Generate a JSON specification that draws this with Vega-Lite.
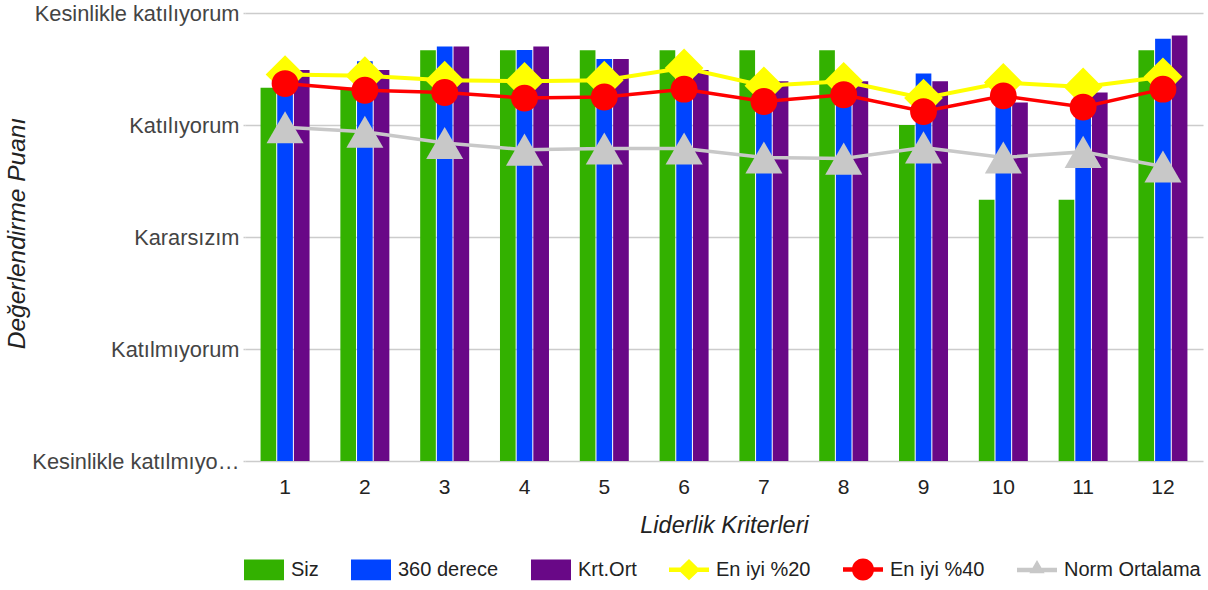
{
  "$schema": "https://vega.github.io/schema/vega-lite/v6.json",
  "width": 958,
  "height": 448,
  "autosize": {"type": "none"},
  "padding": {"left": 245, "top": 13, "right": 5, "bottom": 129},
  "background": "white",
  "config": {
    "font": "Liberation Sans",
    "view": {"stroke": null},
    "axis": {"labelFont": "Liberation Sans", "titleFont": "Liberation Sans"}
  },
  "data": {
    "values": [
      {"k": 1, "series": "Siz", "v": 4.333}, {"k": 2, "series": "Siz", "v": 4.333}, {"k": 3, "series": "Siz", "v": 4.667}, {"k": 4, "series": "Siz", "v": 4.667}, {"k": 5, "series": "Siz", "v": 4.667}, {"k": 6, "series": "Siz", "v": 4.667}, {"k": 7, "series": "Siz", "v": 4.667}, {"k": 8, "series": "Siz", "v": 4.667}, {"k": 9, "series": "Siz", "v": 4.0}, {"k": 10, "series": "Siz", "v": 3.333}, {"k": 11, "series": "Siz", "v": 3.333}, {"k": 12, "series": "Siz", "v": 4.667},
      {"k": 1, "series": "360 derece", "v": 4.4}, {"k": 2, "series": "360 derece", "v": 4.57}, {"k": 3, "series": "360 derece", "v": 4.7}, {"k": 4, "series": "360 derece", "v": 4.67}, {"k": 5, "series": "360 derece", "v": 4.59}, {"k": 6, "series": "360 derece", "v": 4.5}, {"k": 7, "series": "360 derece", "v": 4.36}, {"k": 8, "series": "360 derece", "v": 4.4}, {"k": 9, "series": "360 derece", "v": 4.46}, {"k": 10, "series": "360 derece", "v": 4.3}, {"k": 11, "series": "360 derece", "v": 4.25}, {"k": 12, "series": "360 derece", "v": 4.77},
      {"k": 1, "series": "Krt.Ort", "v": 4.49}, {"k": 2, "series": "Krt.Ort", "v": 4.49}, {"k": 3, "series": "Krt.Ort", "v": 4.7}, {"k": 4, "series": "Krt.Ort", "v": 4.7}, {"k": 5, "series": "Krt.Ort", "v": 4.59}, {"k": 6, "series": "Krt.Ort", "v": 4.49}, {"k": 7, "series": "Krt.Ort", "v": 4.39}, {"k": 8, "series": "Krt.Ort", "v": 4.39}, {"k": 9, "series": "Krt.Ort", "v": 4.39}, {"k": 10, "series": "Krt.Ort", "v": 4.2}, {"k": 11, "series": "Krt.Ort", "v": 4.29}, {"k": 12, "series": "Krt.Ort", "v": 4.8},
      {"k": 1, "series": "En iyi %20", "v": 4.45}, {"k": 2, "series": "En iyi %20", "v": 4.44}, {"k": 3, "series": "En iyi %20", "v": 4.4}, {"k": 4, "series": "En iyi %20", "v": 4.39}, {"k": 5, "series": "En iyi %20", "v": 4.4}, {"k": 6, "series": "En iyi %20", "v": 4.51}, {"k": 7, "series": "En iyi %20", "v": 4.35}, {"k": 8, "series": "En iyi %20", "v": 4.39}, {"k": 9, "series": "En iyi %20", "v": 4.24}, {"k": 10, "series": "En iyi %20", "v": 4.38}, {"k": 11, "series": "En iyi %20", "v": 4.34}, {"k": 12, "series": "En iyi %20", "v": 4.43},
      {"k": 1, "series": "En iyi %40", "v": 4.37}, {"k": 2, "series": "En iyi %40", "v": 4.31}, {"k": 3, "series": "En iyi %40", "v": 4.29}, {"k": 4, "series": "En iyi %40", "v": 4.24}, {"k": 5, "series": "En iyi %40", "v": 4.25}, {"k": 6, "series": "En iyi %40", "v": 4.32}, {"k": 7, "series": "En iyi %40", "v": 4.21}, {"k": 8, "series": "En iyi %40", "v": 4.27}, {"k": 9, "series": "En iyi %40", "v": 4.12}, {"k": 10, "series": "En iyi %40", "v": 4.26}, {"k": 11, "series": "En iyi %40", "v": 4.16}, {"k": 12, "series": "En iyi %40", "v": 4.32},
      {"k": 1, "series": "Norm Ortalama", "v": 3.98}, {"k": 2, "series": "Norm Ortalama", "v": 3.94}, {"k": 3, "series": "Norm Ortalama", "v": 3.84}, {"k": 4, "series": "Norm Ortalama", "v": 3.78}, {"k": 5, "series": "Norm Ortalama", "v": 3.79}, {"k": 6, "series": "Norm Ortalama", "v": 3.79}, {"k": 7, "series": "Norm Ortalama", "v": 3.71}, {"k": 8, "series": "Norm Ortalama", "v": 3.7}, {"k": 9, "series": "Norm Ortalama", "v": 3.8}, {"k": 10, "series": "Norm Ortalama", "v": 3.71}, {"k": 11, "series": "Norm Ortalama", "v": 3.76}, {"k": 12, "series": "Norm Ortalama", "v": 3.63}
    ]
  },
  "encoding": {
    "x": {
      "field": "k", "type": "ordinal",
      "scale": {"paddingInner": 0.386, "paddingOuter": 0.195},
      "axis": {
        "title": "Liderlik Kriterleri", "labelAngle": 0, "ticks": false, "domain": false,
        "labelFontSize": 21, "labelColor": "#222", "labelPadding": 15,
        "titleFontSize": 23.5, "titleFontStyle": "italic", "titleFontWeight": "normal", "titleColor": "#222",
        "titleY": 64, "titleBaseline": "middle"
      }
    },
    "y": {
      "field": "v", "type": "quantitative",
      "scale": {"domain": [1, 5], "zero": false, "nice": false},
      "axis": {
        "title": "Değerlendirme Puanı", "values": [1, 2, 3, 4, 5],
        "labelExpr": "datum.value == 5 ? 'Kesinlikle katılıyorum' : datum.value == 4 ? 'Katılıyorum' : datum.value == 3 ? 'Kararsızım' : datum.value == 2 ? 'Katılmıyorum' : 'Kesinlikle katılmıyo…'",
        "labelLimit": 0, "labelFontSize": 21.8, "labelColor": "#444", "labelPadding": 4,
        "tickSize": 2, "tickColor": "#cccccc", "tickWidth": 1.5,
        "grid": true, "gridColor": "#cccccc", "gridWidth": 1.5, "domain": false,
        "titleFontSize": 24.5, "titleFontStyle": "italic", "titleFontWeight": "normal", "titleColor": "#222",
        "titleX": -228, "titleY": 220, "titleAlign": "center", "titleBaseline": "middle"
      }
    },
    "color": {
      "field": "series", "type": "nominal",
      "scale": {
        "domain": ["Siz", "360 derece", "Krt.Ort", "En iyi %20", "En iyi %40", "Norm Ortalama"],
        "range": ["#33b100", "#0044ff", "#690887", "#ffff00", "#ff0000", "#c8c8c8"]
      },
      "legend": {
        "title": null, "orient": "none", "direction": "horizontal", "columns": 6,
        "legendX": -1, "legendY": 536.5,
        "symbolType": "square", "symbolSize": 1600, "symbolStrokeWidth": 0, "symbolOpacity": 1,
        "labelFontSize": 20, "labelColor": "#222", "labelOffset": 7, "columnPadding": 32,
        "labelFont": "Liberation Sans",
        "encode": {
          "symbols": {
            "update": {
              "shape": {"signal": "datum.value === 'En iyi %20' ? 'M-1,-0.11H1V0.11H-1Z M0,-0.53L0.55,0L0,0.53L-0.55,0Z' : datum.value === 'En iyi %40' ? 'M-1,-0.11H1V0.11H-1Z M-0.55,0A0.55,0.55 0 1,1 0.55,0A0.55,0.55 0 1,1 -0.55,0Z' : datum.value === 'Norm Ortalama' ? 'M-1,-0.11H1V0.11H-1Z M0,-0.5L0.38,0.16L-0.38,0.16Z' : 'M-1,-0.52H1V0.52H-1Z'"},
              "strokeWidth": {"value": 0}
            }
          }
        }
      }
    }
  },
  "layer": [
    {
      "transform": [{"filter": "indexof(['Siz','360 derece','Krt.Ort'], datum.series) >= 0"}],
      "mark": {"type": "bar", "strokeWidth": 0},
      "encoding": {
        "xOffset": {"field": "series", "type": "nominal", "sort": ["Siz", "360 derece", "Krt.Ort"], "scale": {"paddingInner": 0.06}},
        "y2": {"datum": 1}
      }
    },
    {
      "transform": [{"filter": "datum.series === 'En iyi %20'"}],
      "layer": [
        {"mark": {"type": "line", "strokeWidth": 4}, "encoding": {}},
        {"mark": {"type": "point", "shape": "diamond", "filled": true, "size": 1500, "opacity": 1, "strokeWidth": 0}, "encoding": {}}
      ]
    },
    {
      "transform": [{"filter": "datum.series === 'En iyi %40'"}],
      "layer": [
        {"mark": {"type": "line", "strokeWidth": 3.5}, "encoding": {}},
        {"mark": {"type": "point", "shape": "circle", "filled": true, "size": 720, "opacity": 1, "strokeWidth": 0}, "encoding": {}}
      ]
    },
    {
      "transform": [{"filter": "datum.series === 'Norm Ortalama'"}],
      "layer": [
        {"mark": {"type": "line", "strokeWidth": 3.5}, "encoding": {}},
        {"mark": {"type": "point", "shape": "triangle-up", "filled": true, "size": 1370, "opacity": 1, "strokeWidth": 0}, "encoding": {}}
      ]
    }
  ]
}
